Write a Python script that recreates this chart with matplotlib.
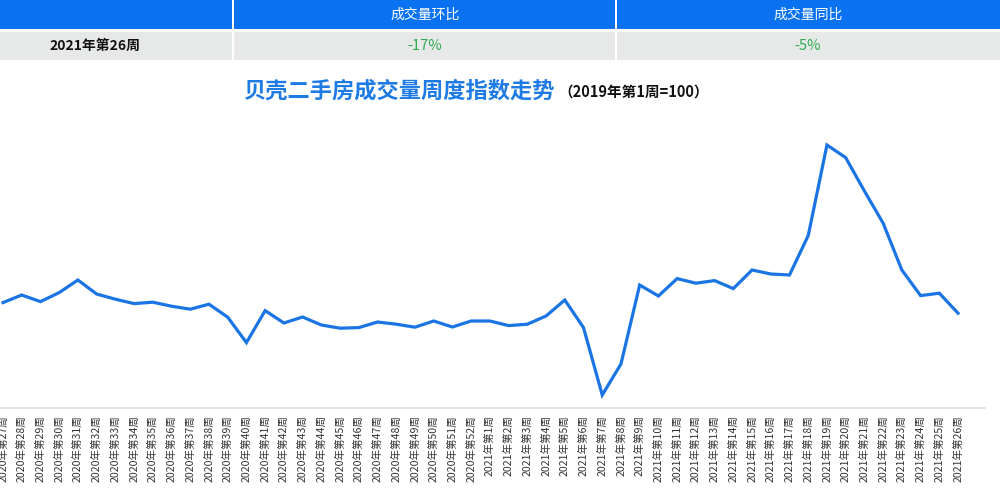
import matplotlib.pyplot as plt
from matplotlib.patches import Rectangle

plt.rcParams['font.family'] = ['Noto Sans CJK SC', 'DejaVu Sans']

# weeks: 2020 w27..w52, 2021 w1..w26
weeks = [f"2020年第{w}周" for w in range(27, 53)] + [f"2021年第{w}周" for w in range(1, 27)]

# weekly index (2019 week 1 = 100)
index_values = [
    99.7, 103.5, 100.2, 104.7, 111.0, 104.0, 101.4, 99.2, 99.9, 97.9,
    96.4, 98.9, 92.4, 79.7, 95.7, 89.5, 92.5, 88.5, 86.9, 87.2,
    90.0, 88.9, 87.4, 90.5, 87.5, 90.5, 90.5, 88.2, 88.9, 93.0,
    101.0, 87.2, 53.5, 69.0, 108.5, 103.0, 111.7, 109.4, 110.7, 106.7,
    116.0, 114.0, 113.5, 133.2, 178.5, 172.2, 155.5, 139.4, 116.0, 103.2,
    104.4, 94.4,
]

# summary table
header_cols = ["成交量环比", "成交量同比"]
row_label = "2021年第26周"
row_values = ["-17%", "-5%"]

W, H = 1000, 490
fig = plt.figure(figsize=(W / 100, H / 100), dpi=100)
fig.patch.set_facecolor("white")

# --- header table (pixel coords) ---
hx = fig.add_axes([0, (H - 61) / H, 1, 61 / H])
hx.set_xlim(0, W)
hx.set_ylim(61, 0)
hx.axis("off")
blue = "#0a72f0"
gray = "#e7e9e9"
hx.add_patch(Rectangle((0, 0), W, 29.5, color=blue, lw=0))
hx.add_patch(Rectangle((0, 31.5), W, 28.5, color=gray, lw=0))
for xv in (233, 616):
    hx.add_patch(Rectangle((xv - 1, 0), 2, 61, color="white", lw=0))
col_centers = [425, 808]
for cx, txt, val in zip(col_centers, header_cols, row_values):
    hx.text(cx, 15, txt, color="white", fontsize=10, ha="center", va="center")
    hx.text(cx, 46, val, color="#2eaa4f", fontsize=10.5, ha="center", va="center")
hx.text(95, 46, row_label, color="#111111", fontsize=10, fontweight="bold",
        ha="center", va="center")

# --- title ---
fig.text(0.243, 1 - 91 / H, "贝壳二手房成交量周度指数走势", color="#1e7be6",
         fontsize=16, fontweight="bold", ha="left", va="center")
fig.text(0.558, 1 - 92 / H, "（2019年第1周=100）", color="#111111",
         fontsize=10.5, fontweight="bold", ha="left", va="center")

# --- line chart ---
ax = fig.add_axes([0, 82 / H, 985 / W, 288 / H])
x = list(range(len(weeks)))
ax.plot(x, index_values, color="#1a74e4", lw=2.3, solid_joinstyle="miter")
ax.set_xlim(-0.16, 52.44)
ax.set_ylim(47, 191)
ax.set_xticks(x)
ax.set_xticklabels(weeks, rotation=90, fontsize=7.6, color="#333333")
ax.tick_params(axis="x", length=0, pad=5)
ax.set_yticks([])
for s in ("top", "left", "right"):
    ax.spines[s].set_visible(False)
ax.spines["bottom"].set_color("#dddddd")
ax.spines["bottom"].set_linewidth(1.2)

fig.savefig("out.png", dpi=100)
